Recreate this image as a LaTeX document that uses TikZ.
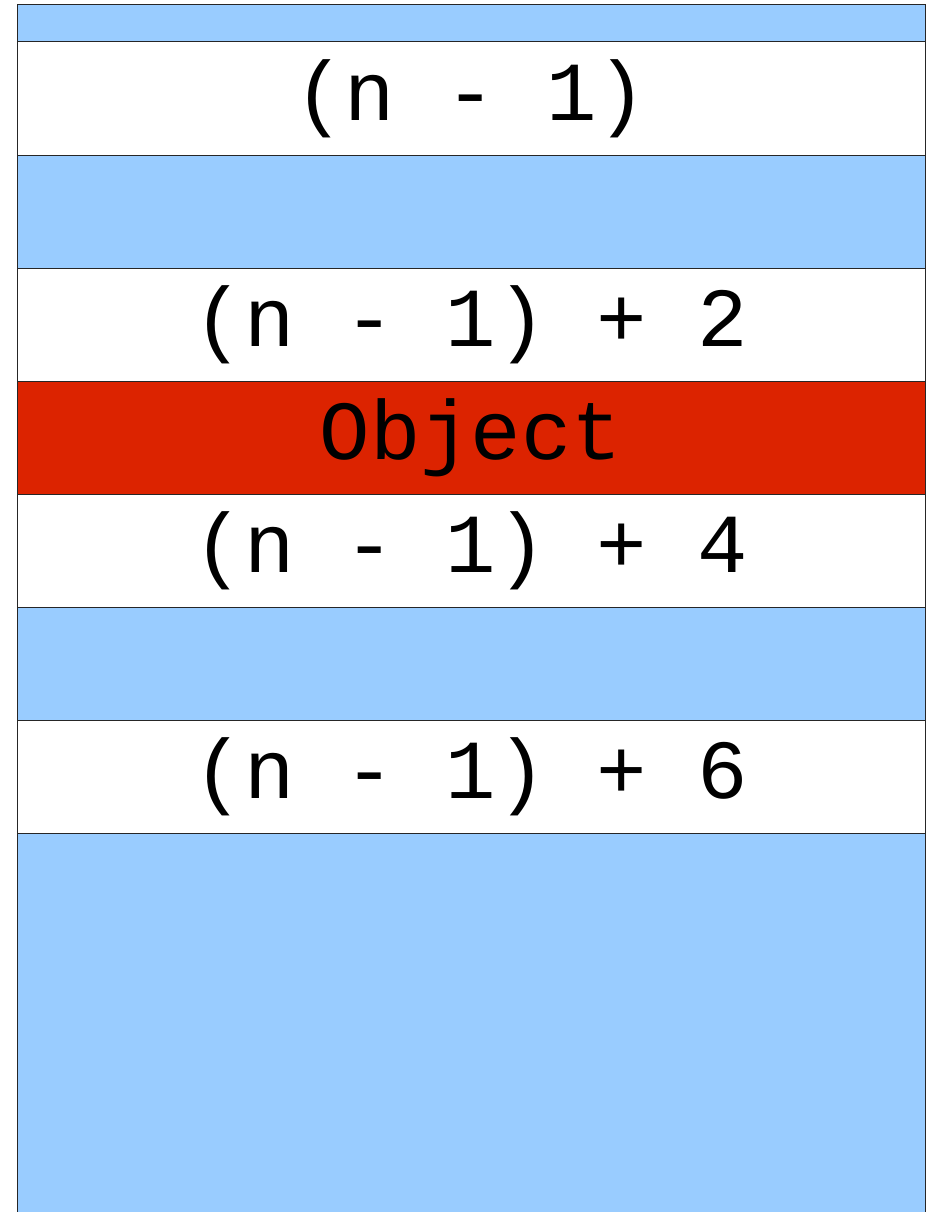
\documentclass[tikz,border=0pt]{standalone}
\usepackage{fontspec}
\setmonofont{Liberation Mono}
\usetikzlibrary{positioning}
\definecolor{SlotBlue}{RGB}{153,204,255}
\definecolor{SlotRed}{RGB}{220,35,0}
\begin{document}
\begin{tikzpicture}[x=1pt,y=1pt,
    slot/.style={draw=black!85,line width=1pt,minimum width=908pt,
                 minimum height=113pt,inner sep=0pt,outer sep=0pt,
                 font=\fontsize{84}{88}\selectfont\ttfamily},
    gap/.style={slot,fill=SlotBlue},
    used/.style={slot,fill=white}
  ]
    \useasboundingbox (0,0) rectangle (933,-1212);
    % memory slots, top to bottom
    \node[gap,anchor=north,minimum height=37pt] (top) at (471,-5) {};
    \node[used,below=0pt of top] (s1) {(n - 1)};
    \node[gap,below=0pt of s1]  (g1) {};
    \node[used,below=0pt of g1] (s2) {(n - 1) + 2};
    \node[slot,fill=SlotRed,below=0pt of s2] (obj) {Object};
    \node[used,below=0pt of obj] (s3) {(n - 1) + 4};
    \node[gap,below=0pt of s3]  (g2) {};
    \node[used,below=0pt of g2] (s4) {(n - 1) + 6};
    \node[gap,below=0pt of s4,minimum height=420pt] (rest) {};
  \end{tikzpicture}
\end{document}
